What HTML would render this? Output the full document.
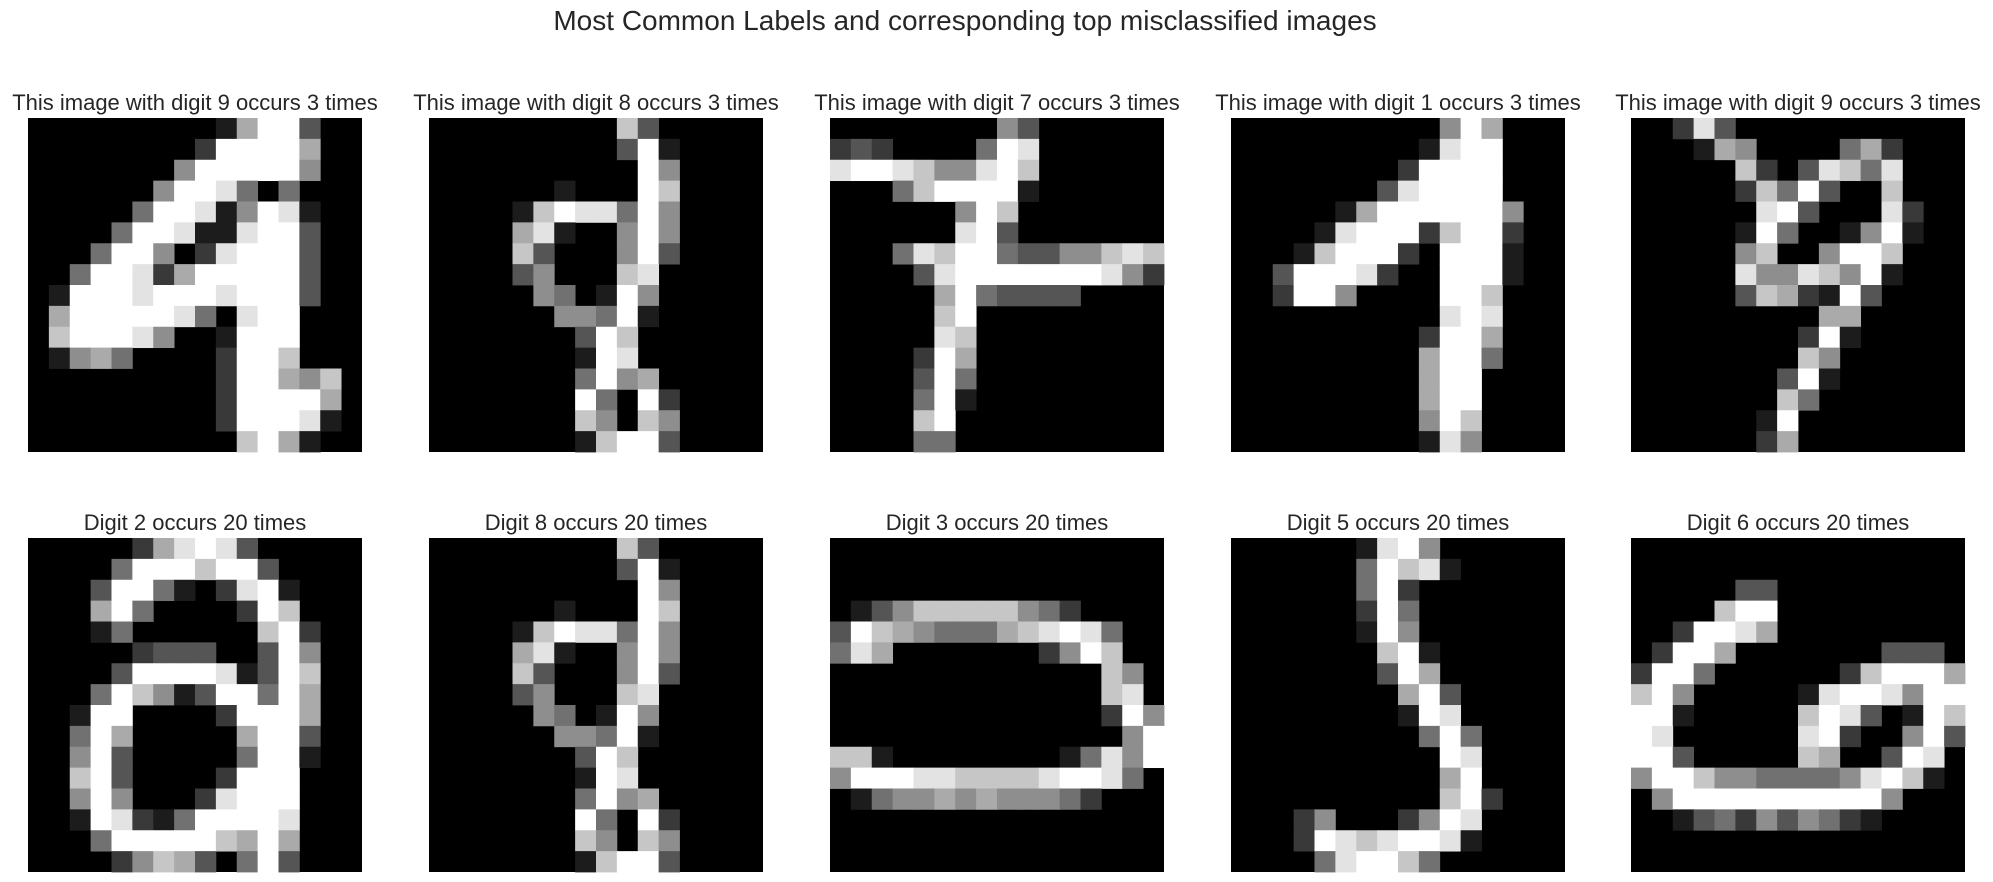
<!DOCTYPE html>
<html><head><meta charset="utf-8"><style>
html,body{margin:0;padding:0;background:#fff;}
svg{display:block;}
text{font-family:"Liberation Sans",Arial,sans-serif;fill:#262626;}
</style></head><body>
<svg id="fig" width="1993" height="882" viewBox="0 0 1993 882" xmlns="http://www.w3.org/2000/svg">
<rect width="1993" height="882" fill="#fff"/>
<text x="965" y="30" font-size="28" text-anchor="middle">Most Common Labels and corresponding top misclassified images</text>
<g id="panels"></g>
</svg>
<script>
const panelTitles = [
 "This image with digit 9 occurs 3 times","This image with digit 8 occurs 3 times","This image with digit 7 occurs 3 times","This image with digit 1 occurs 3 times","This image with digit 9 occurs 3 times",
 "Digit 2 occurs 20 times","Digit 8 occurs 20 times","Digit 3 occurs 20 times","Digit 5 occurs 20 times","Digit 6 occurs 20 times"
];
const img0 = ["0000000001699300","0000000029999600","0000000599999500","0000005998404000","0000049981598100","0000499811899300","0004995028999300","0049982699999300","0199989998999300","0699999840899000","0799985001999000","0156400002997000","0000000002996570","0000000002999960","0000000002999810","0000000000796100"];
const img1 = ["0000000007300000","0000000003910000","0000000000950000","0000001000970000","0000179884950000","0000681005950000","0000730005930000","0000350007800000","0000054019500000","0000005549100000","0000000397000000","0000000198000000","0000000495600000","0000000940920000","0000000750750000","0000000179930000"];
const img2 = ["0000000053000000","2320000498000000","8998755897000000","0004799991000000","0000005970000000","0000008930000000","0004879943355787","0000389999999852","0000069433330000","0000079000000000","0000087000000000","0000296000000000","0000394000000000","0000491000000000","0000790000000000","0000440000000000"];
const img3 = ["0000000000596000","0000000001899000","0000000029999000","0000000389999000","0000016999999500","0000189992799200","0001799920999100","0039998200999100","0029950000997000","0000000000898000","0000000002996000","0000000006994000","0000000006990000","0000000006990000","0000000005970000","0000000001850000"];
const img4 = ["0028300000000000","0001650000462000","0000072038748000","0000027493007000","0000008930008200","0000019400159100","0000057005997000","0000085587591000","0000037621930000","0000000006600000","0000000029100000","0000000075000000","0000000391000000","0000000740000000","0000001900000000","0000002600000000"];
const img5 = ["0000026898300000","0000499979930000","0003994102891000","0006940000297000","0001400000079200","0000023330039500","0000399998139700","0004975139949600","0019900002999600","0049600000699300","0059300000499100","0079300002999000","0059500028999000","0019821499998000","0004999997696000","0000257630493000"];
const img6 = ["0000000007300000","0000000003910000","0000000000950000","0000001000970000","0000179884950000","0000681005950000","0000730005930000","0000350007800000","0000054019500000","0000005549100000","0000000397000000","0000000198000000","0000000495600000","0000000940920000","0000000750750000","0000000179930000"];
const img7 = ["0000000000000000","0000000000000000","0000000000000000","0135777775420000","3976544467898400","4860000000259700","0000000000000750","0000000000000780","0000000000000295","0000000000000059","7710000000014859","5999887777899840","0145565655542000","0000000000000000","0000000000000000","0000000000000000"];
const img8 = ["0000001895000000","0000004978100000","0000004920000000","0000002940000000","0000001950000000","0000000791000000","0000000396000000","0000000069300000","0000000019800000","0000000004940000","0000000000980000","0000000000690000","0000000000792000","0002500025980000","0002987899810000","0000489974000000"];
const img9 = ["0000000000000000","0000000000000000","0000033000000000","0000799000000000","0029986000000000","0299600000003330","2994000000279996","7950000018998599","9910000079830197","9800000089200593","9930000076003980","5997554444589710","0599999999995000","0013425354210000","0000000000000000","0000000000000000"];
const images = [img0,img1,img2,img3,img4,img5,img6,img7,img8,img9];

const NS = "http://www.w3.org/2000/svg";
const colX = [28, 429, 830, 1231, 1631];
const rowY = [118, 538];
const SIZE = 334;
const N = 16;
const cell = SIZE / N;
function xScale(col, panel){ return colX[panel % 5] + col * cell; }
function yScale(row, panel){ return rowY[Math.floor(panel / 5)] + row * cell; }
function gray(d){ const v = Math.round(d / 9 * 255); return "rgb(" + v + "," + v + "," + v + ")"; }

const root = document.getElementById("panels");
images.forEach(function(img, p){
  const g = document.createElementNS(NS, "g");
  
  
  const bg = document.createElementNS(NS, "rect");
  bg.setAttribute("x", xScale(0, p)); bg.setAttribute("y", yScale(0, p));
  bg.setAttribute("width", SIZE); bg.setAttribute("height", SIZE); bg.setAttribute("fill", "#000");
  
  
  g.appendChild(bg);
  img.forEach(function(rowStr, r){
    for (let c = 0; c < N; c++) {
      const d = parseInt(rowStr[c], 10);
      if (!d) continue;
      const rc = document.createElementNS(NS, "rect");
      rc.setAttribute("x", xScale(c, p));
      rc.setAttribute("y", yScale(r, p));
      rc.setAttribute("width", cell + 0.4);
      rc.setAttribute("height", cell + 0.4);
      rc.setAttribute("fill", gray(d));
      
      
      g.appendChild(rc);
    }
  });
  const t = document.createElementNS(NS, "text");
  t.setAttribute("x", xScale(0, p) + SIZE / 2);
  t.setAttribute("y", yScale(0, p) - 8);
  t.setAttribute("font-size", "22");
  t.setAttribute("text-anchor", "middle");
  t.textContent = panelTitles[p];
  
  
  g.appendChild(t);
  root.appendChild(g);
});
</script>
</body></html>
